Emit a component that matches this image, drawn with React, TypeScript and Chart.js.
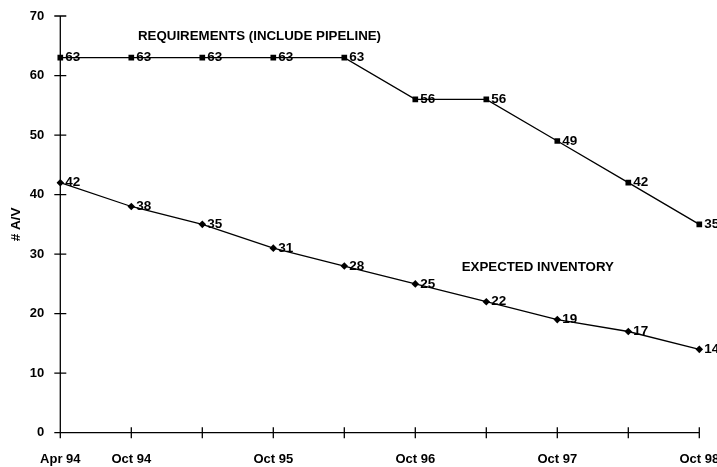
import React, { useEffect, useRef } from "react";
import { Chart, registerables } from "chart.js";

Chart.register(...registerables);

const categories = ["Apr 94", "Oct 94", "Apr 95", "Oct 95", "Apr 96", "Oct 96", "Apr 97", "Oct 97", "Apr 98", "Oct 98"];
const tickLabels = ["Apr 94", "Oct 94", "", "Oct 95", "", "Oct 96", "", "Oct 97", "", "Oct 98"];
const requirements = [63, 63, 63, 63, 63, 56, 56, 49, 42, 35];
const expectedInventory = [42, 38, 35, 31, 28, 25, 22, 19, 17, 14];
const yTicks = [0, 10, 20, 30, 40, 50, 60, 70];
const seriesNotes = [
  { text: "REQUIREMENTS (INCLUDE PIPELINE)", atIndex: 1.094, atValue: 66.6 },
  { text: "EXPECTED INVENTORY", atIndex: 5.653, atValue: 27.8 },
];

const FONT = "'Liberation Sans', Arial, Helvetica, sans-serif";

const drawPlugin = {
  id: "customDraw",
  afterDraw(chart: any) {
    const ctx = chart.ctx;
    const xs = chart.scales.x;
    const ys = chart.scales.y;
    const x0 = xs.getPixelForValue(0);
    const x1 = xs.getPixelForValue(categories.length - 1);
    const y0 = ys.getPixelForValue(0);
    const yTop = ys.getPixelForValue(70);
    ctx.save();
    ctx.strokeStyle = "#000";
    ctx.lineWidth = 1.3;
    ctx.beginPath();
    ctx.moveTo(x0, yTop);
    ctx.lineTo(x0, y0);
    ctx.moveTo(x0, y0);
    ctx.lineTo(x1, y0);
    yTicks.forEach((v) => {
      const y = ys.getPixelForValue(v);
      ctx.moveTo(x0 - 6, y);
      ctx.lineTo(x0 + 6, y);
    });
    categories.forEach((_, i) => {
      const x = xs.getPixelForValue(i);
      ctx.moveTo(x, y0 - 5.5);
      ctx.lineTo(x, y0 + 5.5);
    });
    ctx.stroke();

    ctx.fillStyle = "#000";
    ctx.textAlign = "left";
    ctx.textBaseline = "middle";
    ctx.font = `bold 13.5px ${FONT}`;
    chart.data.datasets.forEach((ds: any, di: number) => {
      const meta = chart.getDatasetMeta(di);
      meta.data.forEach((pt: any, i: number) => {
        ctx.fillText(String(ds.data[i]), pt.x + 5, pt.y);
      });
    });
    ctx.font = `bold 13.3px ${FONT}`;
    seriesNotes.forEach((n) => {
      const x = x0 + (xs.getPixelForValue(1) - x0) * n.atIndex;
      ctx.fillText(n.text, x, ys.getPixelForValue(n.atValue));
    });
    ctx.restore();
  },
};

export default function App() {
  const canvasRef = useRef<HTMLCanvasElement>(null);
  useEffect(() => {
    if (!canvasRef.current) return;
    const chart = new Chart(canvasRef.current, {
      type: "line",
      data: {
        labels: categories,
        datasets: [
          {
            label: "Requirements",
            data: requirements,
            borderColor: "#000",
            backgroundColor: "#000",
            borderWidth: 1.3,
            pointStyle: "rect",
            pointRadius: 4,
            pointBorderWidth: 0,
            tension: 0,
          },
          {
            label: "Expected Inventory",
            data: expectedInventory,
            borderColor: "#000",
            backgroundColor: "#000",
            borderWidth: 1.3,
            pointStyle: "rectRot",
            pointRadius: 3.8,
            pointBorderWidth: 0,
            tension: 0,
          },
        ],
      },
      options: {
        animation: false,
        responsive: true,
        maintainAspectRatio: false,
        layout: { padding: { left: 0, right: 45.7, top: 16, bottom: 0 } },
        plugins: { legend: { display: false }, tooltip: { enabled: false } },
        scales: {
          x: {
            type: "category",
            offset: false,
            grid: { display: false, drawTicks: false },
            border: { display: false },
            afterFit: (s: any) => {
              s.height = 34.3;
              s.paddingLeft = 0;
              s.paddingRight = 0;
            },
            ticks: {
              autoSkip: false,
              maxRotation: 0,
              minRotation: 0,
              padding: 19,
              color: "#000",
              font: { family: FONT, size: 13, weight: "bold" },
              callback: (_v: any, i: number) => tickLabels[i],
            },
          },
          y: {
            min: 0,
            max: 70,
            grid: { display: false, drawTicks: false },
            border: { display: false },
            afterFit: (s: any) => {
              s.width = 60.3;
              s.paddingTop = 0;
              s.paddingBottom = 0;
            },
            title: {
              display: true,
              text: "# A/V",
              color: "#000",
              font: { family: FONT, size: 13.5, weight: "bold" },
              padding: { top: 7.9, bottom: 0 },
            },
            ticks: {
              stepSize: 10,
              padding: 16,
              color: "#000",
              font: { family: FONT, size: 13, weight: "bold" },
            },
          },
        },
      },
      plugins: [drawPlugin],
    });
    return () => chart.destroy();
  }, []);
  return (
    <div style={{ position: "fixed", left: 0, top: 0, width: 717, height: 467, overflow: "hidden", background: "#fff" }}>
      <div style={{ position: "absolute", left: 0, top: 0, width: 745, height: 467 }}>
        <canvas ref={canvasRef} />
      </div>
    </div>
  );
}
